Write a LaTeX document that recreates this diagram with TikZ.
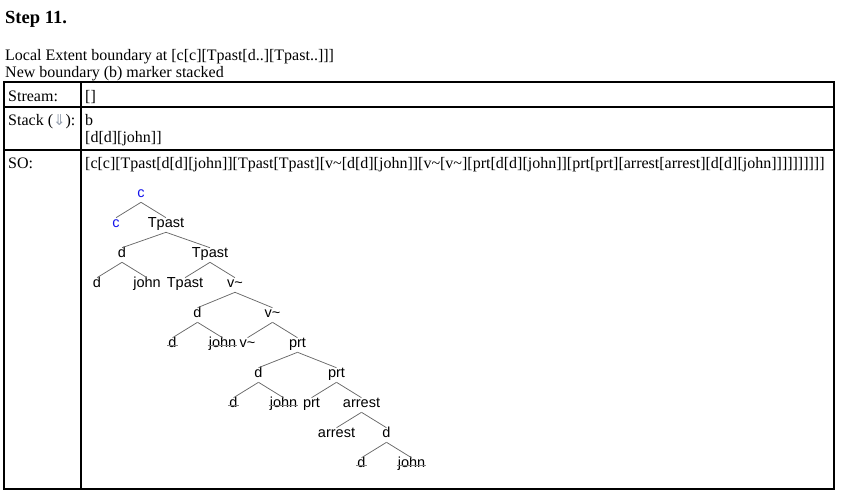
\documentclass[tikz,border=0pt]{standalone}
\usepackage{fontspec}
\setmainfont{Liberation Serif}
\newfontfamily\treefont{Liberation Sans}
\newfontfamily\symfont{DejaVu Sans}
\usetikzlibrary{positioning}

\definecolor{edgegray}{RGB}{105,105,105}
\definecolor{strikegray}{RGB}{130,130,130}
\definecolor{cblue}{RGB}{20,20,235}
\definecolor{arrowgray}{RGB}{150,160,175}

\begin{document}
\begin{tikzpicture}[x=1pt,y=-1pt]
\tikzstyle{txt}=[inner sep=0pt,anchor=base west,font=\fontsize{16}{18}\selectfont]
\tikzstyle{tnode}=[inner xsep=1pt,inner ysep=2.5pt,text height=1.6ex,text depth=.4ex,font=\treefont\fontsize{14.5}{16}\selectfont]
\tikzstyle{cnode}=[text=cblue]
\tikzstyle{struck}=[append after command={(\tikzlastnode.west) edge[draw=strikegray,line width=.8pt] (\tikzlastnode.east)}]
\useasboundingbox (0,0) rectangle (850,499);

% heading and notes
\node[txt,font=\fontsize{18.5}{21}\selectfont\bfseries] (title) at (5,23) {Step 11.};
\node[txt] (note1) at (5,60) {Local Extent boundary at [c[c][Tpast[d..][Tpast..]]]};
\node[txt] (note2) at (5,77) {New boundary (b) marker stacked};

% table
\draw[line width=1.1pt] (4,82) rectangle (834,489);
\draw[line width=1.1pt] (81,82) -- (81,489);
\draw[line width=1.1pt] (4,107) -- (834,107);
\draw[line width=1.1pt] (4,150) -- (834,150);
\node[txt] (stream) at (8,101) {Stream:};
\node[txt] (streamv) at (85,101) {[]};
\node[txt] (stack) at (8,125) {Stack ({\symfont\fontsize{15}{16}\selectfont\color{arrowgray}⇓}):};
\node[txt] (stackb) at (85,125) {b};
\node[txt] (stackd) at (85,142) {[d[d][john]]};
\node[txt] (so) at (8,168) {SO:};
\node[txt] (sov) at (85,168) {[c[c][Tpast[d[d][john]][Tpast[Tpast][v\textasciitilde[d[d][john]][v\textasciitilde[v\textasciitilde][prt[d[d][john]][prt[prt][arrest[arrest][d[d][john]]]]]]]]]]};

% tree
\begin{scope}[every node/.style=tnode,level distance=30pt,level/.style={sibling distance=50pt},
  edge from parent/.style={draw=edgegray,line width=.75pt},
  edge from parent path={(\tikzparentnode.south) -- (\tikzchildnode.north)}]
\node[cnode] (c0) at (141,195) {c}
  child {node[cnode] (c1) {c}}
  child {node (tp0) {Tpast}
    child[sibling distance=88pt] {node (d0) {d}
      child {node (d1) {d}}
      child {node (j1) {john}}
    }
    child[sibling distance=88pt] {node (tp1) {Tpast}
      child {node (tp2) {Tpast}}
      child {node (v0) {v\textasciitilde}
        child[sibling distance=75pt] {node (d2) {d}
          child {node[struck] (d3) {d}}
          child {node[struck] (j3) {john}}
        }
        child[sibling distance=75pt] {node (v1) {v\textasciitilde}
          child {node (v2) {v\textasciitilde}}
          child {node (p0) {prt}
            child[sibling distance=78pt] {node (d4) {d}
              child {node[struck] (d5) {d}}
              child {node[struck] (j5) {john}}
            }
            child[sibling distance=78pt] {node (p1) {prt}
              child {node (p2) {prt}}
              child {node (a0) {arrest}
                child {node (a1) {arrest}}
                child {node (d6) {d}
                  child {node[struck] (d7) {d}}
                  child {node[struck] (j7) {john}}
                }
              }
            }
          }
        }
      }
    }
  };
\end{scope}
\end{tikzpicture}
\end{document}
